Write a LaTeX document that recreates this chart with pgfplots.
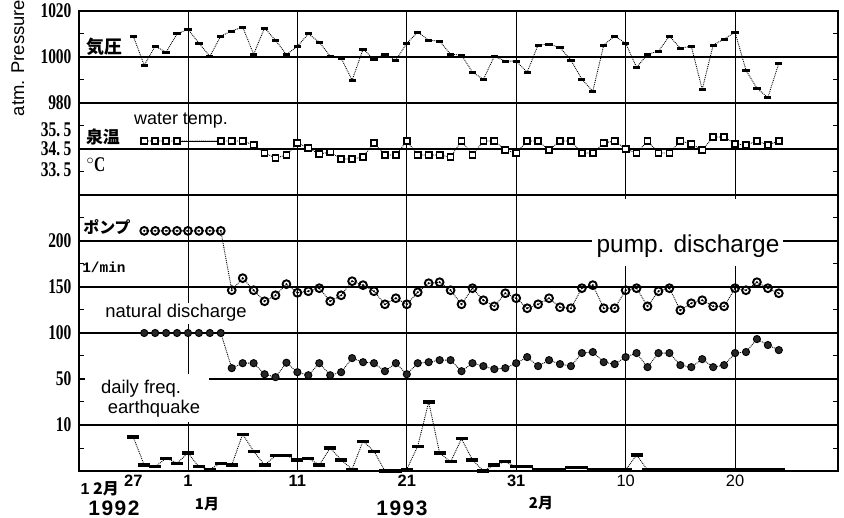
\documentclass[border=0pt]{standalone}
\usepackage{pgfplots}
\pgfplotsset{compat=1.18}
\usepackage{pgfplotstable}
\usepackage{fontspec}
\setmainfont{Liberation Sans}
\newfontfamily\cjk{Noto Sans CJK JP}
\newfontfamily\tickfont{Liberation Serif}[FakeStretch=0.74]
\newfontfamily\monof{Liberation Mono}

% open circle with a dot in the middle (pump discharge)
\pgfdeclareplotmark{odot}{%
  \pgfpathcircle{\pgfpointorigin}{\pgfplotmarksize}\pgfusepathqstroke
  \pgfpathcircle{\pgfpointorigin}{0.3\pgfplotmarksize}\pgfusepathqfill}

% day index: 31 Dec 1992 = 0, 1 Jan 1993 = 1, ...
\pgfplotstableread{
d p
-4 1009.1
-3 996.4
-2 1004.7
-1 1002.1
0 1010.0
1 1012.1
2 1006.0
3 1000.3
4 1009.1
5 1011.3
6 1013.0
7 1001.2
8 1012.6
9 1007.3
10 1001.0
11 1004.7
12 1010.0
13 1006.5
14 1000.3
15 999.5
16 989.9
17 1003.4
18 999.0
19 1001.2
20 998.6
21 1006.0
22 1010.8
23 1007.3
24 1006.9
25 1001.2
26 1000.8
27 993.4
28 990.3
29 1000.3
30 998.2
31 998.2
32 993.4
33 1005.2
34 1005.6
35 1004.1
36 998.6
37 990.3
38 985.1
39 1005.2
40 1009.1
41 1006.0
42 995.5
43 1001.2
44 1002.5
45 1009.1
46 1003.8
47 1004.7
48 985.9
49 1005.2
50 1007.8
51 1010.8
52 994.2
53 986.4
54 982.4
55 997.3
}\pressure

\pgfplotstableread{
d t
-3 34.9
-2 34.9
-1 34.9
0 34.9
4 34.9
5 34.9
6 34.9
7 34.7
8 34.3
9 34.05
10 34.2
11 34.8
12 34.55
13 34.25
14 34.35
15 34.0
16 34.0
17 34.1
18 34.8
19 34.2
20 34.2
21 34.9
22 34.2
23 34.2
24 34.2
25 34.1
26 34.9
27 34.2
28 34.9
29 34.9
30 34.45
31 34.3
32 34.9
33 34.9
34 34.45
35 34.9
36 34.9
37 34.3
38 34.3
39 34.8
40 34.9
41 34.5
42 34.3
43 34.9
44 34.3
45 34.3
46 34.9
47 34.75
48 34.45
49 35.1
50 35.1
51 34.75
52 34.7
53 34.9
54 34.7
55 34.9
}\temp

\pgfplotstableread{
d pump nat
-3 211 100
-2 211 100
-1 211 100
0 211 100
1 211 100
2 211 100
3 211 100
4 211 100
5 146.5 61.8
6 159.6 67.2
7 146.5 67.2
8 134.5 55.2
9 141.0 52.0
10 153.1 67.7
11 143.7 57.4
12 145.4 54.1
13 148.7 67.2
14 134.5 54.1
15 141.0 57.4
16 156.3 72.7
17 152.0 68.3
18 145.4 67.2
19 131.2 58.5
20 137.8 67.2
21 131.2 55.2
22 144.3 67.2
23 154.1 68.3
24 155.2 70.5
25 146.5 70.5
26 131.2 58.5
27 148.7 67.2
28 135.6 64.0
29 129.0 60.7
30 143.2 61.8
31 137.8 67.2
32 126.9 73.8
33 131.2 64.0
34 137.8 70.5
35 128.0 66.2
36 126.9 64.0
37 148.7 78.2
38 152.0 79.3
39 126.9 68.3
40 126.9 66.2
41 146.5 73.8
42 148.7 78.2
43 129.0 62.9
44 145.4 78.2
45 148.7 78.2
46 124.7 65.1
47 132.3 62.9
48 135.6 71.6
49 129.0 62.9
50 129.0 65.1
51 148.7 78.2
52 146.5 79.3
53 155.2 93.4
54 148.7 86.9
55 143.2 81.4
}\discharge

\pgfplotstableread{
d n
-4 7.4
-3 1.3
-2 0.9
-1 2.8
0 1.7
1 3.9
2 0.9
3 0.4
4 1.7
5 1.3
6 8.0
7 4.3
8 1.3
9 3.3
10 3.3
11 2.4
12 2.8
13 1.3
14 5.0
15 2.4
16 0.4
17 6.5
18 4.3
19 0.0
20 0.0
21 0.4
22 5.4
23 15.0
24 3.9
25 2.0
26 7.0
27 2.4
28 0.0
29 1.3
30 2.0
31 0.9
32 0.9
33 0.4
34 0.4
35 0.4
36 0.7
37 0.7
38 0.3
39 0.2
40 0.2
41 0.2
42 3.5
43 0.2
44 0.2
45 0.2
46 0.2
47 0.2
48 0.2
49 0.2
50 0.2
51 0.2
52 0.2
53 0.2
54 0.2
55 0.2
}\quake

\begin{document}
\begin{tikzpicture}
\begin{axis}[
  at={(0,0)}, anchor=south west,
  scale only axis, width=759bp, height=460bp,
  xmin=-8.96, xmax=60.41, ymin=0, ymax=10,
  axis line style={line width=1.4bp, black},
  xtick={1,11,21,31,41,51},
  xticklabels={\textbf{1},\textbf{11},\textbf{21},\textbf{31},10,20},
  extra x ticks={-4}, extra x tick labels={\textbf{27}},
  extra x tick style={xmajorgrids=false},
  xtick style={draw=none},
  xmajorgrids,
  major x grid style={black, line width=0.8bp},
  x tick label style={font=\fontsize{16.5}{16.5}\selectfont, yshift=-1bp},
  ytick={0,...,10},
  yticklabels={,10,50,100,150,200,,{34.\,5},980,1000,1020},
  extra y ticks={7.42,6.55},
  extra y tick labels={{35.\,5},{33.\,5}},
  extra y tick style={ymajorgrids=false, major tick length=0pt},
  minor y tick num=1,
  minor tick length=5bp, major tick length=5bp,
  ytick style={black, line width=1bp},
  ymajorgrids,
  major y grid style={black, line width=1.1bp},
  y tick label style={font=\tickfont\bfseries\fontsize{21}{21}\selectfont, xshift=-4bp},
  clip=false,
]
% pressure
\addplot[black, densely dotted, line width=0.9bp, mark=-, mark size=3.6bp,
  mark options={solid, line width=3bp}, y filter/.expression={9+(y-1000)/20}]
  table[x=d, y=p] {\pressure};
% water temperature
\addplot[black, solid, line width=0.8bp, forget plot, y filter/.expression={7+(y-34.5)*0.435}]
  coordinates {(0,34.9) (4,34.9)};
\addplot[black, densely dotted, line width=0.9bp, mark=square*, mark size=3.1bp,
  mark options={solid, fill=white, line width=1.6bp}, y filter/.expression={7+(y-34.5)*0.435}]
  table[x=d, y=t] {\temp};
% pump discharge
\addplot[black, densely dotted, line width=0.9bp, mark=odot, mark size=3.9bp,
  mark options={solid, line width=1.9bp}, y filter/.expression={1+y/50}]
  table[x=d, y=pump] {\discharge};
% natural discharge
\addplot[black, densely dotted, line width=0.9bp, mark=*, mark size=3.6bp,
  mark options={solid, fill=black!85}, y filter/.expression={1+y/50}]
  table[x=d, y=nat] {\discharge};
% earthquakes
\addplot[black, densely dotted, line width=0.9bp, mark=-, mark size=6bp,
  mark options={solid, line width=3.2bp}, y filter/.expression={y/10}]
  table[x=d, y=n] {\quake};
\end{axis}

% annotations in picture pixel coordinates (origin top left)
\begin{scope}[x=1bp, y=-1bp, shift={(-79bp,471bp)}]
  \node[rotate=90, font=\fontsize{18.5}{18.5}\selectfont] at (18,58) {atm. Pressure};
  \node[font=\cjk\bfseries\fontsize{18}{18}\selectfont] at (104,47) {気圧};
  \node[font=\fontsize{18}{18}\selectfont] at (181,121) {water temp.};
  \node[font=\cjk\bfseries\fontsize{17}{17}\selectfont] at (103,137) {泉温};
  \node[font=\tickfont\bfseries\fontsize{21}{21}\selectfont] at (96,165) {$^\circ$C};
  \node[font=\cjk\bfseries\fontsize{16}{16}\selectfont] at (107,227) {ポンプ};
  \node[font=\monof\bfseries\fontsize{14.5}{14.5}\selectfont] at (104,267) {1/min};
  \fill[white] (592,199) rectangle (783,266);
  \node[font=\fontsize{24.5}{24.5}\selectfont] at (688,246) {pump. discharge};
  \fill[white] (102,303) rectangle (251,324);
  \node[font=\fontsize{18.5}{18.5}\selectfont] at (176,313) {natural discharge};
  \fill[white] (85,374) rectangle (209,422);
  \node[font=\fontsize{18.5}{18.5}\selectfont] at (141,389) {daily freq.};
  \node[font=\fontsize{18.5}{18.5}\selectfont] at (154,409) {earthquake};
  \node[font=\bfseries\fontsize{16}{16}\selectfont] at (85,489) {1};
  \node[font=\cjk\bfseries\fontsize{16}{16}\selectfont] at (106,489) {2月};
  \node[font=\cjk\bfseries\fontsize{15}{15}\selectfont] at (207,504) {1月};
  \node[font=\cjk\bfseries\fontsize{15}{15}\selectfont] at (541,503) {2月};
  \node[font=\bfseries\fontsize{21}{21}\selectfont] at (114,508) {1\kern1.5bp9\kern1.5bp9\kern1.5bp2};
  \node[font=\bfseries\fontsize{21}{21}\selectfont] at (402,508) {1\kern1.5bp9\kern1.5bp9\kern1.5bp3};
  \pgfresetboundingbox
  \useasboundingbox (0,0) rectangle (844,518);
\end{scope}
\end{tikzpicture}
\end{document}
